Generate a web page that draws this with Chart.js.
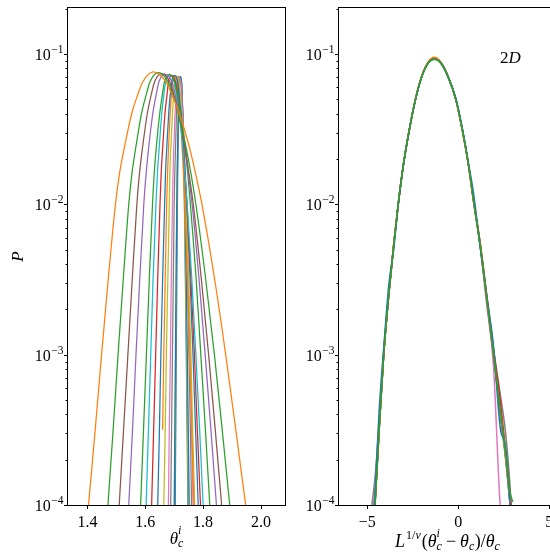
<!DOCTYPE html>
<html><head><meta charset="utf-8">
<script src="https://cdn.jsdelivr.net/npm/chart.js@4.4.0/dist/chart.umd.min.js"></script>
<style>
html,body{margin:0;padding:0;overflow:hidden;background:#fff;width:550px;height:553px;}
#c1{position:absolute;left:0;top:0;}
#c2{position:absolute;left:290px;top:0;}
</style></head><body>
<canvas id="c1" width="290" height="553"></canvas>
<canvas id="c2" width="290" height="553"></canvas>
<script>
// ---------- DATA ----------
const tab = {blue:'#1f77b4', orange:'#ff7f0e', green:'#2ca02c', red:'#d62728', purple:'#9467bd',
             brown:'#8c564b', pink:'#e377c2', gray:'#7f7f7f', olive:'#bcbd22', cyan:'#17becf'};

// Left panel: P levels crossed by every curve (null = that curve's own peak)
const leftLevelP = [1e-4,3.16e-4,1e-3,3.16e-3,1e-2,1.6e-2,2.5e-2,4e-2,5.5e-2,6.5e-2,null,6.5e-2,5.5e-2,4e-2,2.5e-2,1.6e-2,1e-2,3.16e-3,1e-3,3.16e-4,1e-4];
const leftPeakP  = [0.076,0.075,0.074,0.0735,0.073,0.0725,0.072,0.072,0.0715,0.0715,0.071,0.071,0.0705,0.0705,0.070];
const leftColors = ['orange','green','brown','purple','green','cyan','red','blue','orange','olive','pink','gray','blue','olive','blue'];
// theta_c^i where each curve crosses the levels above
const leftTheta = [
 [1.404,1.427,1.449,1.472,1.497,1.511,1.530,1.553,1.576,1.591,1.628,1.672,1.690,1.718,1.750,1.774,1.796,1.840,1.878,1.913,1.947],
 [1.471,1.489,1.506,1.524,1.543,1.554,1.569,1.587,1.605,1.616,1.645,1.679,1.693,1.715,1.739,1.758,1.775,1.809,1.839,1.866,1.892],
 [1.510,1.525,1.540,1.555,1.571,1.580,1.592,1.607,1.622,1.632,1.656,1.685,1.697,1.715,1.736,1.751,1.766,1.794,1.819,1.842,1.864],
 [1.543,1.556,1.568,1.581,1.595,1.603,1.613,1.626,1.639,1.647,1.668,1.692,1.702,1.718,1.736,1.749,1.762,1.786,1.807,1.827,1.846],
 [1.584,1.594,1.604,1.614,1.625,1.631,1.639,1.650,1.660,1.666,1.683,1.702,1.710,1.722,1.736,1.747,1.756,1.776,1.792,1.808,1.823],
 [1.603,1.611,1.619,1.627,1.637,1.642,1.649,1.657,1.665,1.671,1.684,1.700,1.707,1.717,1.729,1.737,1.745,1.761,1.775,1.788,1.800],
 [1.622,1.629,1.636,1.643,1.651,1.655,1.661,1.668,1.676,1.680,1.692,1.705,1.711,1.720,1.730,1.737,1.744,1.758,1.770,1.780,1.791],
 [1.643,1.649,1.654,1.660,1.667,1.670,1.675,1.681,1.687,1.691,1.700,1.712,1.716,1.724,1.732,1.738,1.744,1.755,1.765,1.774,1.783],
 [null, 1.660,1.664,1.669,1.674,1.677,1.681,1.686,1.691,1.694,1.702,1.711,1.714,1.720,1.727,1.732,1.737,1.746,1.754,1.761,1.768],
 [1.664,1.669,1.673,1.678,1.683,1.685,1.689,1.694,1.698,1.701,1.708,1.717,1.721,1.726,1.732,1.737,1.741,1.750,1.758,1.764,1.771],
 [1.680,1.683,1.687,1.690,1.694,1.696,1.699,1.703,1.707,1.709,1.715,1.722,1.725,1.729,1.734,1.738,1.741,1.748,1.754,1.760,1.765],
 [1.688,1.691,1.694,1.697,1.700,1.702,1.705,1.708,1.711,1.713,1.718,1.724,1.726,1.730,1.734,1.737,1.740,1.746,1.751,1.756,1.760],
 [1.7001,1.7023,1.7044,1.7066,1.7090,1.7103,1.7121,1.7143,1.7165,1.7180,1.7215,1.7257,1.7274,1.7301,1.7332,1.7355,1.7376,1.7418,1.7454,1.7488,1.7520],
 [1.7008,1.7029,1.7049,1.7069,1.7091,1.7104,1.7121,1.7141,1.7161,1.7175,1.7208,1.7247,1.7263,1.7288,1.7316,1.7338,1.7357,1.7396,1.7430,1.7461,1.7491],
 [1.7036,1.7054,1.7072,1.7091,1.7111,1.7122,1.7138,1.7156,1.7175,1.7187,1.7217,1.7253,1.7267,1.7290,1.7316,1.7335,1.7353,1.7388,1.7419,1.7447,1.7475]
];

// Right panel: rescaled x and P of each collapsed curve
const rightX = [-4.75,-4.58,-4.35,-4.10,-3.82,-3.55,-3.30,-3.02,-2.70,-2.35,-2.00,-1.65,-1.32,-0.95,-0.55,-0.14,0.245,0.55,0.83,1.20,1.55,1.93,2.30,2.60,2.85,3.00];
const rightColors = ['green','blue','orange','red','purple','brown','pink','gray','olive','cyan'];
const rightP = [
 [4e-5,9.5e-5,3.1e-4,1.0e-3,2.5e-3,5.3e-3,1.0e-2,1.82e-2,3.08e-2,5.0e-2,7.1e-2,8.7e-2,9.2e-2,8.6e-2,6.95e-2,5.0e-2,3.02e-2,1.86e-2,1.07e-2,5.4e-3,2.45e-3,1.02e-3,4.3e-4,2.2e-4,1.2e-4,1.05e-4],
 [6e-5,1.2e-4,4.2e-4,1.1e-3,2.9e-3,5.0e-3,1.0e-2,1.82e-2,3.09e-2,5.0e-2,7.1e-2,8.7e-2,9.2e-2,8.7e-2,7.05e-2,5.1e-2,3.1e-2,1.9e-2,1.2e-2,5.2e-3,2.5e-3,1.15e-3,3.3e-4,2.4e-4,1.0e-4,5e-5],
 [5e-5,1.05e-4,3.2e-4,1.02e-3,2.55e-3,5.4e-3,1.01e-2,1.84e-2,3.1e-2,5.05e-2,7.2e-2,8.85e-2,9.5e-2,8.8e-2,7.05e-2,5.0e-2,3.0e-2,1.85e-2,1.07e-2,5.4e-3,2.45e-3,1.02e-3,4.2e-4,2.1e-4,1.05e-4,6e-5],
 [5e-5,1.0e-4,3.2e-4,1.0e-3,2.5e-3,5.35e-3,1.0e-2,1.82e-2,3.09e-2,5.0e-2,7.13e-2,8.77e-2,9.4e-2,8.75e-2,7.0e-2,5.01e-2,3.02e-2,1.87e-2,1.1e-2,5.6e-3,2.6e-3,1.1e-3,5.0e-4,2.3e-4,1.15e-4,8e-5],
 [4.5e-5,1.0e-4,3.16e-4,1.0e-3,2.51e-3,5.37e-3,1.0e-2,1.82e-2,3.09e-2,5.01e-2,7.13e-2,8.77e-2,9.35e-2,8.71e-2,7.0e-2,5.01e-2,3.02e-2,1.86e-2,1.07e-2,5.37e-3,2.4e-3,1.0e-3,4.17e-4,2.09e-4,1.0e-4,6.6e-5],
 [4.5e-5,1.0e-4,3.1e-4,9.8e-4,2.5e-3,5.35e-3,1.0e-2,1.81e-2,3.08e-2,5.0e-2,7.12e-2,8.76e-2,9.33e-2,8.7e-2,7.0e-2,5.0e-2,3.02e-2,1.86e-2,1.07e-2,5.35e-3,2.4e-3,1.0e-3,4.2e-4,2.1e-4,1.0e-4,6.5e-5],
 [7e-5,1.3e-4,3.5e-4,1.05e-3,2.55e-3,5.4e-3,1.0e-2,1.82e-2,3.09e-2,5.0e-2,7.13e-2,8.77e-2,9.35e-2,8.71e-2,7.0e-2,5.0e-2,3.0e-2,1.85e-2,1.05e-2,5.2e-3,2.2e-3,8.5e-4,1.0e-4,5e-5,3e-5,2e-5],
 [1.0e-4,1.5e-4,3.5e-4,1.0e-3,2.5e-3,5.37e-3,1.0e-2,1.82e-2,3.09e-2,5.0e-2,7.13e-2,8.77e-2,9.35e-2,8.71e-2,7.0e-2,5.01e-2,3.02e-2,1.86e-2,1.07e-2,5.4e-3,2.5e-3,1.1e-3,5.5e-4,3.0e-4,1.3e-4,6e-5],
 [4.5e-5,1.0e-4,3.2e-4,1.0e-3,2.51e-3,5.37e-3,1.0e-2,1.82e-2,3.09e-2,5.01e-2,7.13e-2,8.77e-2,9.4e-2,8.75e-2,7.0e-2,5.01e-2,3.02e-2,1.86e-2,1.07e-2,5.37e-3,2.4e-3,1.0e-3,4.2e-4,2.1e-4,1.05e-4,6.6e-5],
 [4.5e-5,1.0e-4,3.2e-4,1.0e-3,2.5e-3,5.3e-3,1.0e-2,1.82e-2,3.09e-2,5.0e-2,7.1e-2,8.75e-2,9.3e-2,8.7e-2,7.0e-2,5.0e-2,3.02e-2,1.86e-2,1.07e-2,5.35e-3,2.4e-3,1.0e-3,4.1e-4,2.0e-4,1.0e-4,6.5e-5]
];

// Ticks
const yMajorTicks = [1e-4,1e-3,1e-2,1e-1];
const yMajorExp   = ['\u22124','\u22123','\u22122','\u22121'];
const leftXTicks = [1.4,1.6,1.8,2.0];
const leftXTickLabels = ['1.4','1.6','1.8','2.0'];
const rightXTicks = [-5,0,5];
const rightXTickLabels = ['\u22125','0','5'];

// ---------- DRAWING ----------
const FAM = '"Liberation Serif", "DejaVu Serif", serif';
const fnt = (s, it) => (it ? 'italic ' : '') + s + 'px ' + FAM;

function partsWidth(ctx, parts){
  let w = 0;
  for (const p of parts){
    if (p.stack){ let m = 0; for (const q of p.stack){ ctx.font = fnt(q.s, q.it); m = Math.max(m, ctx.measureText(q.t).width); } p.w = m; }
    else { ctx.font = fnt(p.s, p.it); p.w = ctx.measureText(p.t).width; }
    w += p.w + (p.gap || 0);
  }
  return w;
}
function drawParts(ctx, parts, cx, base){
  const w = partsWidth(ctx, parts);
  let x = cx - w/2;
  ctx.textAlign = 'left'; ctx.textBaseline = 'alphabetic'; ctx.fillStyle = '#000';
  for (const p of parts){
    if (p.stack){ for (const q of p.stack){ ctx.font = fnt(q.s, q.it); ctx.fillText(q.t, x, base + q.dy); } }
    else { ctx.font = fnt(p.s, p.it); ctx.fillText(p.t, x, base + (p.dy || 0)); }
    x += p.w + (p.gap || 0);
  }
}

function decor(opts){
  return {
    id: 'decor',
    afterDraw(chart){
      const {ctx, chartArea: a, scales: {x, y}} = chart;
      ctx.save();
      ctx.strokeStyle = '#000'; ctx.lineWidth = 1;
      ctx.strokeRect(a.left - 0.5, a.top - 0.5, a.right - a.left + 1, a.bottom - a.top + 1);
      ctx.beginPath();
      for (let e = -4; e <= -1; e++){
        for (let k = 1; k <= 9; k++){
          const v = k * Math.pow(10, e);
          if (v < y.min * 0.999 || v > y.max) continue;
          const py = Math.round(y.getPixelForValue(v)) + 0.5;
          const len = k === 1 ? 3.5 : 2;
          ctx.moveTo(a.left - 0.5 - len, py); ctx.lineTo(a.left - 0.5, py);
        }
      }
      for (const v of opts.xTicks){
        const px = Math.round(x.getPixelForValue(v)) + 0.5;
        ctx.moveTo(px, a.bottom + 0.5); ctx.lineTo(px, a.bottom + 4);
      }
      ctx.stroke();
      ctx.fillStyle = '#000';
      yMajorTicks.forEach((v, i) => {
        const py = y.getPixelForValue(v);
        const right = a.left - 4.5;
        ctx.textAlign = 'right'; ctx.textBaseline = 'alphabetic';
        ctx.font = fnt(11.5, false);
        const ew = ctx.measureText(yMajorExp[i]).width;
        ctx.fillText(yMajorExp[i], right, py - 1);
        ctx.font = fnt(16, false);
        ctx.fillText('10', right - ew - 0.5, py + 6);
      });
      ctx.textAlign = 'center'; ctx.textBaseline = 'alphabetic'; ctx.font = fnt(16, false);
      opts.xTicks.forEach((v, i) => ctx.fillText(opts.xLabels[i], x.getPixelForValue(v), 527));
      drawParts(ctx, opts.xTitle, (a.left + a.right) / 2, opts.xTitleBase);
      if (opts.yTitle){
        ctx.save(); ctx.translate(19, (a.top + a.bottom) / 2); ctx.rotate(-Math.PI / 2);
        ctx.textAlign = 'center'; ctx.textBaseline = 'middle'; ctx.font = fnt(17, true);
        ctx.fillText(opts.yTitle, 0, 0); ctx.restore();
      }
      if (opts.note){
        const nx = a.left + 0.79 * (a.right - a.left), ny = a.top + 0.111 * (a.bottom - a.top);
        drawParts(ctx, opts.note, nx, ny);
      }
      ctx.restore();
    }
  };
}

function baseOptions(xmin, xmax, yW, padRight){
  return {
    responsive: false, animation: false, events: [],
    layout: {padding: {left: 0, right: padRight, top: 8, bottom: 0}},
    plugins: {legend: {display: false}, tooltip: {enabled: false}},
    elements: {point: {radius: 0}},
    scales: {
      x: {type: 'linear', min: xmin, max: xmax, grid: {display: false}, border: {display: false},
          ticks: {display: false}, afterFit: s => { s.height = 48; }},
      y: {type: 'logarithmic', min: 1e-4, max: 0.202, grid: {display: false}, border: {display: false},
          ticks: {display: false}, afterFit: s => { s.width = yW; }}
    }
  };
}

const leftDatasets = leftTheta.map((th, i) => ({
  data: th.map((t, j) => ({x: t, y: leftLevelP[j] === null ? leftPeakP[i] : leftLevelP[j]})).filter(p => p.x !== null),
  borderColor: tab[leftColors[i]], borderWidth: 1.25, fill: false,
  cubicInterpolationMode: 'monotone', clip: 0
}));

const rightDatasets = rightP.map((ps, i) => ({
  data: ps.map((p, j) => ({x: rightX[j], y: p})),
  borderColor: tab[rightColors[i]], borderWidth: 1.5, fill: false,
  cubicInterpolationMode: 'monotone', clip: 0
}));

const itS = 12;
new Chart(document.getElementById('c1'), {
  type: 'line',
  data: {datasets: leftDatasets},
  options: baseOptions(1.333, 2.083, 68, 5),
  plugins: [decor({
    xTicks: leftXTicks, xLabels: leftXTickLabels, xTitleBase: 543.5, yTitle: 'P',
    xTitle: [{t:'\u03b8', s:17, it:true}, {stack:[{t:'i', s:itS, it:true, dy:-9.5}, {t:'c', s:itS, it:true, dy:3.5}]}]
  })]
});

new Chart(document.getElementById('c2'), {
  type: 'line',
  data: {datasets: rightDatasets},
  options: baseOptions(-6.555, 5.368, 49, 24),
  plugins: [decor({
    xTicks: rightXTicks, xLabels: rightXTickLabels, xTitleBase: 546.5,
    xTitle: [
      {t:'L', s:18, it:true, gap:1},
      {t:'1/', s:itS, dy:-8}, {t:'\u03bd', s:itS, it:true, dy:-8, gap:1},
      {t:'(', s:18}, {t:'\u03b8', s:18, it:true},
      {stack:[{t:'i', s:itS, it:true, dy:-9.5}, {t:'c', s:itS, it:true, dy:3.5}], gap:4},
      {t:'\u2212', s:18, gap:4},
      {t:'\u03b8', s:18, it:true}, {stack:[{t:'c', s:itS, it:true, dy:3.5}], gap:0.5},
      {t:')', s:18}, {t:'/', s:18},
      {t:'\u03b8', s:18, it:true}, {stack:[{t:'c', s:itS, it:true, dy:3.5}]}
    ],
    note: [{t:'2', s:17}, {t:'D', s:17, it:true}]
  })]
});
</script>
</body></html>
